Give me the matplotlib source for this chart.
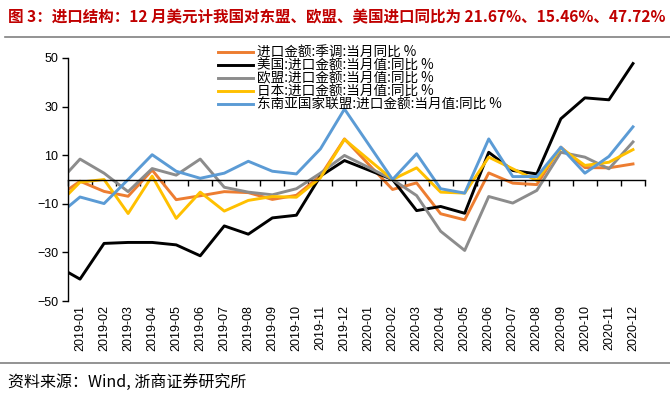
import matplotlib
matplotlib.use("Agg")
import matplotlib.pyplot as plt
from matplotlib.lines import Line2D
import numpy as np

plt.rcParams['font.family'] = ['Liberation Sans', 'Noto Sans CJK SC', 'DejaVu Sans']
CJK = ['Noto Sans CJK SC', 'DejaVu Sans']

# months; 2018-12 sits half outside the left edge, 2020-01 missing (Jan-Feb combined)
months = ["2018-12",
          "2019-01", "2019-02", "2019-03", "2019-04", "2019-05", "2019-06",
          "2019-07", "2019-08", "2019-09", "2019-10", "2019-11", "2019-12",
          "2020-01", "2020-02", "2020-03", "2020-04", "2020-05", "2020-06",
          "2020-07", "2020-08", "2020-09", "2020-10", "2020-11", "2020-12"]
nan = np.nan
total_sa = [-7.7, -0.7, -4.9, -6.9, 3.9, -8.3, -6.7, -5.0, -5.4, -8.2, -6.5, 1.5, 16.7,
            nan, -4.1, -1.4, -14.1, -16.6, 2.7, -1.5, -2.1, 13.3, 4.9, 4.8, 6.4]
usa = [-35.4, -41.0, -26.3, -25.9, -25.9, -26.9, -31.4, -19.1, -22.5, -15.8, -14.7, 1.4, 7.8,
       nan, 0.0, -12.8, -11.1, -13.9, 11.2, 3.7, 2.3, 25.0, 33.6, 32.8, 47.72]
eu = [-2.4, 8.4, 2.6, -5.0, 4.5, 1.8, 8.4, -3.2, -5.2, -6.3, -3.8, 2.6, 9.9,
      nan, 0.0, -6.6, -21.3, -29.2, -7.0, -9.7, -4.5, 11.2, 9.2, 4.4, 15.46]
japan = [-11.1, -1.1, 0.0, -14.0, 1.4, -16.0, -5.2, -13.0, -8.6, -7.0, -7.3, 0.7, 16.5,
         nan, 0.0, 4.8, -5.2, -5.6, 9.2, 4.4, -0.4, 13.0, 5.8, 7.1, 12.3]
asean = [-15.4, -7.2, -9.9, 0.0, 10.2, 3.4, 0.5, 2.6, 7.5, 3.4, 2.3, 12.6, 29.0,
         nan, 0.0, 10.6, -3.8, -5.6, 16.7, 1.2, 1.2, 13.3, 2.6, 9.5, 21.67]

series = [
    ("进口金额:季调:当月同比 %", total_sa, "#ED7D31"),
    ("美国:进口金额:当月值:同比 %", usa, "#000000"),
    ("欧盟:进口金额:当月值:同比 %", eu, "#8C8C8C"),
    ("日本:进口金额:当月值:同比 %", japan, "#FFC000"),
    ("东南亚国家联盟:进口金额:当月值:同比 %", asean, "#5B9BD5"),
]

title = "图 3：进口结构：12 月美元计我国对东盟、欧盟、美国进口同比为 21.67%、15.46%、47.72%"
source = "资料来源：Wind, 浙商证券研究所"

W, H = 670, 397
fig = plt.figure(figsize=(W / 100, H / 100), dpi=100)
ax = fig.add_axes([68 / W, 1 - 301 / H, 577 / W, 243 / H])

x = np.arange(len(months)) - 1
for name, vals, color in series:
    v = np.array(vals, dtype=float)
    m = ~np.isnan(v)
    ax.plot(x[m], v[m], color=color, lw=2.1, label=name)

ax.set_xlim(-0.5, len(months) - 1.5)
ax.set_ylim(-50, 50)
ax.set_yticks([-50, -30, -10, 10, 30, 50])
ax.spines['top'].set_visible(False)
ax.spines['right'].set_visible(False)
ax.spines['bottom'].set_position(('data', 0))
ax.spines['bottom'].set_linewidth(1.0)
ax.spines['left'].set_linewidth(1.0)
ax.set_xticks(np.arange(-0.5, len(months) - 1, 1))
ax.set_xticklabels([])
ax.tick_params(axis='x', direction='out', length=4, width=1)
ax.tick_params(axis='y', direction='out', length=4, width=1, labelsize=9, pad=3)

for i, lab in enumerate(months[1:]):
    ax.text(i, -0.015, lab, transform=ax.get_xaxis_transform(), rotation=90,
            ha='center', va='top', fontsize=9)

fig.legend(loc='upper left', bbox_to_anchor=(218 / W, 1 - 46 / H), frameon=False,
           prop={'family': CJK, 'size': 9.8}, handlelength=2.6, handletextpad=0.3,
           labelspacing=-0.08, borderpad=0, borderaxespad=0)

fig.text(8 / W, 1 - 17 / H, title, fontsize=11.2, weight='bold', color='#C00000',
         va='center', ha='left', family=CJK)
fig.add_artist(Line2D([5 / W, 1.0], [1 - 37 / H] * 2, color='#808080', lw=1.2))
fig.add_artist(Line2D([0.0, 1.0], [1 - 363 / H] * 2, color='#808080', lw=1.2))
fig.text(8 / W, 1 - 382 / H, source, fontsize=11.5, va='center', ha='left', family=CJK)

fig.savefig("out.png", dpi=100)
